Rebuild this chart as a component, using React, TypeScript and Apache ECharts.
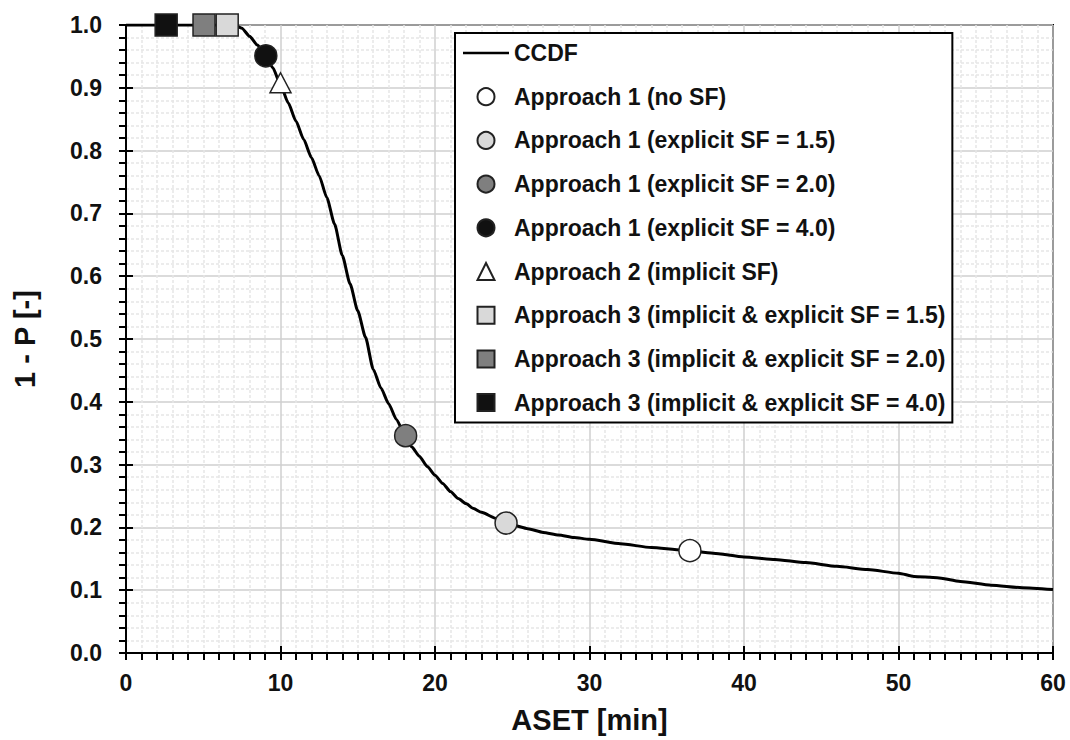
import React, { useEffect, useRef } from "react";
import * as echarts from "echarts";

// CCDF curve: ASET [min] vs 1 - P [-]
const ccdfX = [0, 2, 4, 6, 7, 7.5, 8, 8.5, 9, 9.5, 10, 10.5, 11, 11.5, 12, 12.5, 13, 13.5, 14, 14.5, 15, 15.5, 16, 16.5, 17, 17.5, 18, 18.5, 19, 19.5, 20, 20.5, 21, 21.5, 22, 22.5, 23, 24, 25, 26, 27, 28, 29, 30, 32, 34, 36, 38, 40, 42, 44, 46, 48, 50, 51, 52.5, 54, 56, 58, 60];
const ccdfY = [1.0, 1.0, 1.0, 1.0, 1.0, 0.995, 0.982, 0.968, 0.953, 0.932, 0.905, 0.876, 0.847, 0.818, 0.789, 0.76, 0.725, 0.683, 0.633, 0.588, 0.545, 0.503, 0.452, 0.422, 0.397, 0.372, 0.35, 0.328, 0.313, 0.297, 0.283, 0.27, 0.257, 0.246, 0.238, 0.23, 0.224, 0.214, 0.204, 0.198, 0.192, 0.188, 0.184, 0.181, 0.174, 0.168, 0.164, 0.159, 0.153, 0.149, 0.144, 0.138, 0.133, 0.127, 0.122, 0.12, 0.114, 0.108, 0.104, 0.101];

// Approach markers
const markerNames = [
  "Approach 1 (no SF)",
  "Approach 1 (explicit SF = 1.5)",
  "Approach 1 (explicit SF = 2.0)",
  "Approach 1 (explicit SF = 4.0)",
  "Approach 2 (implicit SF)",
  "Approach 3 (implicit & explicit SF = 1.5)",
  "Approach 3 (implicit & explicit SF = 2.0)",
  "Approach 3 (implicit & explicit SF = 4.0)",
];
const markerX = [36.5, 24.6, 18.1, 9.05, 10.0, 6.55, 5.05, 2.6];
const markerY = [0.163, 0.207, 0.346, 0.951, 0.908, 1.0, 1.0, 1.0];
const markerSymbols = ["circle", "circle", "circle", "circle", "triangle", "rect", "rect", "rect"];
const markerColors = ["#ffffff", "#d9d9d9", "#7f7f7f", "#111111", "#ffffff", "#d9d9d9", "#7f7f7f", "#111111"];

const xTickLabels = ["0", "10", "20", "30", "40", "50", "60"];
const yTickLabels = ["0.0", "0.1", "0.2", "0.3", "0.4", "0.5", "0.6", "0.7", "0.8", "0.9", "1.0"];

const FONT = "'Liberation Sans', Arial, sans-serif";

const legendIcons: Record<string, string> = {
  circle: "circle",
  rect: "path://M0,0L10,0L10,10L0,10Z",
  triangle: "path://M5,0L10,10L0,10Z",
};

export default function App() {
  const ref = useRef<HTMLDivElement>(null);

  useEffect(() => {
    if (!ref.current) return;
    const chart = echarts.init(ref.current, undefined, { renderer: "svg" });

    const lineData = ccdfX.map((x, i) => [x, ccdfY[i]]);

    const scatterSeries = markerNames.map((name, i) => ({
      name,
      type: "scatter",
      xAxisIndex: 0,
      yAxisIndex: 0,
      symbol: markerSymbols[i],
      symbolSize: markerSymbols[i] === "triangle" ? [21, 20] : 22,
      data: [[markerX[i], markerY[i]]],
      itemStyle: {
        color: markerColors[i],
        borderColor: "#222222",
        borderWidth: 1.5,
        opacity: 1,
      },
      z: 5 + i,
      emphasis: { disabled: true },
    }));

    const legendData = [
      { name: "CCDF", icon: "path://M0,0L46,0L46,2.6L0,2.6Z", itemStyle: { color: "#000000", borderWidth: 0 } },
      ...markerNames.map((name, i) => ({
        name,
        icon: legendIcons[markerSymbols[i]],
      })),
    ];

    const option: any = {
      animation: false,
      backgroundColor: "#ffffff",
      textStyle: { fontFamily: FONT },
      grid: {
        left: 126,
        top: 25,
        right: 17,
        bottom: 87,
        show: true,
        borderColor: "#000000",
        borderWidth: 2,
        backgroundColor: "transparent",
      },
      legend: {
        orient: "vertical",
        left: 455,
        top: 33,
        itemWidth: 46,
        itemHeight: 17,
        itemGap: 17.7,
        padding: [7, 7, 7, 8],
        symbolKeepAspect: true,
        backgroundColor: "#ffffff",
        borderColor: "#000000",
        borderWidth: 2,
        borderRadius: 0,
        selectedMode: false,
        textStyle: {
          fontFamily: FONT,
          fontWeight: "bold",
          fontSize: 23,
          lineHeight: 26,
          color: "#111111",
        },
        data: legendData,
      },
      xAxis: [
        {
          type: "value",
          min: 0,
          max: 60,
          interval: 10,
          position: "bottom",
          name: "ASET [min]",
          nameLocation: "middle",
          nameGap: 52,
          nameTextStyle: { fontFamily: FONT, fontWeight: "bold", fontSize: 29, color: "#111111" },
          axisLine: { show: true, onZero: false, lineStyle: { color: "#000000", width: 2 } },
          axisTick: { show: true, inside: false, length: 7, lineStyle: { color: "#000000", width: 2 } },
          minorTick: { show: true, splitNumber: 10, length: 7, lineStyle: { color: "#000000", width: 2 } },
          axisLabel: {
            margin: 18,
            fontFamily: FONT,
            fontWeight: "bold",
            fontSize: 23,
            color: "#111111",
            formatter: (v: number) => xTickLabels[Math.round(v / 10)] ?? "",
          },
          splitLine: { show: true, lineStyle: { color: "#cfcfcf", width: 1.5 } },
          minorSplitLine: { show: true, lineStyle: { color: "#e6e6e6", width: 1.5, type: [3, 2] } },
        },
        {
          type: "value",
          min: 0,
          max: 60,
          interval: 10,
          position: "bottom",
          axisLine: { show: false },
          axisTick: { show: true, inside: true, length: 7, lineStyle: { color: "#000000", width: 2 } },
          axisLabel: { show: false },
          splitLine: { show: false },
        },
      ],
      yAxis: [
        {
          type: "value",
          min: 0,
          max: 1,
          interval: 0.1,
          position: "left",
          name: "1 - P [-]",
          nameLocation: "middle",
          nameGap: 87,
          nameTextStyle: { fontFamily: FONT, fontWeight: "bold", fontSize: 29, color: "#111111" },
          axisLine: { show: true, onZero: false, lineStyle: { color: "#000000", width: 2 } },
          axisTick: { show: true, inside: false, length: 7, lineStyle: { color: "#000000", width: 2 } },
          minorTick: { show: true, splitNumber: 5, length: 7, lineStyle: { color: "#000000", width: 2 } },
          axisLabel: {
            margin: 24,
            fontFamily: FONT,
            fontWeight: "bold",
            fontSize: 23,
            color: "#111111",
            formatter: (v: number) => yTickLabels[Math.round(v * 10)] ?? "",
          },
          splitLine: { show: true, lineStyle: { color: "#cfcfcf", width: 1.5 } },
          minorSplitLine: { show: true, lineStyle: { color: "#e6e6e6", width: 1.5, type: [3, 2] } },
        },
        {
          type: "value",
          min: 0,
          max: 1,
          interval: 0.1,
          position: "left",
          axisLine: { show: false },
          axisTick: { show: true, inside: true, length: 7, lineStyle: { color: "#000000", width: 2 } },
          axisLabel: { show: false },
          splitLine: { show: false },
        },
      ],
      series: [
        {
          name: "CCDF",
          type: "line",
          xAxisIndex: 0,
          yAxisIndex: 0,
          data: lineData,
          symbol: "none",
          showSymbol: false,
          smooth: 0.2,
          smoothMonotone: "x",
          lineStyle: { color: "#000000", width: 3 },
          itemStyle: { color: "#000000" },
          z: 3,
          emphasis: { disabled: true },
        },
        ...scatterSeries,
      ],
    };

    chart.setOption(option);
    return () => {
      chart.dispose();
    };
  }, []);

  return (
    <div
      ref={ref}
      style={{ position: "absolute", left: 0, top: 0, width: 1070, height: 740, background: "#fff" }}
    />
  );
}
